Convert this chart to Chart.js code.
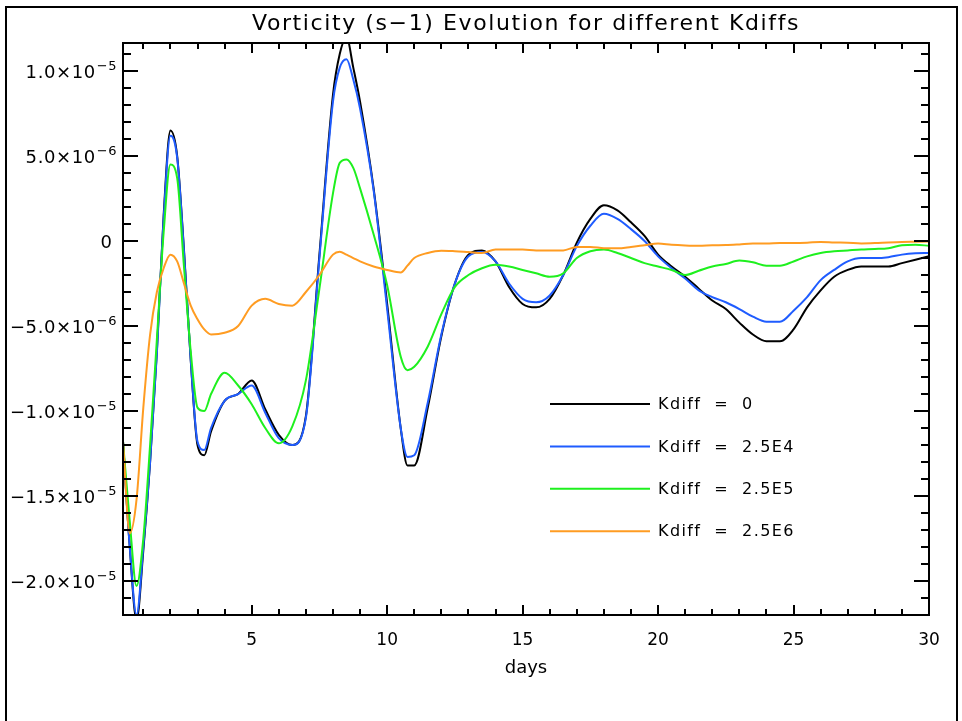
<!DOCTYPE html>
<html lang="en">
<head>
    <meta charset="UTF-8">
    <title>Vorticity (s-1) Evolution for different Kdiffs</title>
    <script src="https://cdn.jsdelivr.net/npm/chart.js"></script>
    <style>
        html, body {
            margin: 0;
            padding: 0;
            background: #fff;
        }
        .chart-box {
            width: 962px;
            height: 721px;
        }
    </style>
</head>
<body>
    <div class="chart-box">
        <canvas id="vortChart" width="962" height="721"></canvas>
    </div>

    <script>
        // time axis (days) shared by all runs
        const days = [0.25, 0.5, 0.75, 1.0, 1.25, 1.5, 1.75, 2.0, 2.25, 2.5, 2.75, 3.0, 3.25, 3.5,
            4.0, 4.5, 5.0, 5.5, 6.0, 6.5, 7.0, 7.5, 8.0, 8.25, 8.5, 8.75, 9.0, 9.5, 10.0, 10.5,
            10.75, 11.0, 11.5, 12.0, 12.5, 13.0, 13.5, 14.0, 14.5, 15.0, 15.5, 16.0, 16.5, 17.0,
            17.5, 18.0, 18.5, 19.0, 19.5, 20.0, 20.5, 21.0, 21.5, 22.0, 22.5, 23.0, 23.5, 24.0,
            24.5, 25.0, 25.5, 26.0, 26.5, 27.0, 27.5, 28.0, 28.5, 29.0, 29.5, 30.0];

        // vorticity, in units of 1e-6 s^-1
        const kdiff0 = [-11.8, -18.0, -22.3, -18.2, -13.0, -6.5, 1.5, 6.5, 5.0, -0.5, -7.0, -12.0, -12.6, -11.2,
            -9.4, -9.0, -8.2, -9.9, -11.4, -12.0, -10.3, -0.8, 8.6, 11.0, 12.0, 10.2, 8.2, 3.1, -3.7, -11.0,
            -13.2, -13.2, -9.8, -5.6, -2.5, -0.8, -0.55, -1.2, -2.7, -3.7, -3.9, -3.4, -2.0, -0.1,
            1.3, 2.1, 1.8, 1.1, 0.3, -0.8, -1.5, -2.1, -2.8, -3.5, -4.0, -4.8, -5.5, -5.9,
            -5.9, -5.2, -3.9, -2.9, -2.1, -1.7, -1.5, -1.5, -1.5, -1.3, -1.1, -0.9];

        const kdiff25e4 = [-11.8, -18.0, -22.0, -18.0, -13.0, -6.6, 1.3, 6.2, 4.9, -0.6, -7.0, -11.8, -12.3, -11.0,
            -9.4, -9.0, -8.5, -10.1, -11.6, -12.0, -10.4, -1.0, 8.2, 10.2, 10.7, 9.5, 7.8, 3.0, -4.0, -11.0,
            -12.7, -12.6, -9.5, -5.5, -2.5, -0.9, -0.65, -1.2, -2.5, -3.4, -3.6, -3.2, -2.0, -0.3,
            0.9, 1.6, 1.3, 0.7, 0.0, -0.9, -1.6, -2.2, -2.9, -3.3, -3.6, -4.0, -4.45, -4.75,
            -4.75, -4.1, -3.3, -2.3, -1.7, -1.2, -1.0, -1.0, -0.95, -0.8, -0.72, -0.7];

        const kdiff25e5 = [-11.8, -16.5, -20.3, -17.5, -12.0, -5.8, 0.5, 4.5, 3.7, -1.5, -6.5, -9.8, -10.0, -9.0,
            -7.75, -8.5, -9.6, -11.0, -11.9, -10.9, -8.2, -2.8, 2.8, 4.6, 4.8, 4.3, 3.1, 0.4, -2.6, -6.8,
            -7.6, -7.4, -6.2, -4.3, -2.7, -2.0, -1.6, -1.4, -1.5, -1.7, -1.9, -2.1, -1.9, -1.0,
            -0.6, -0.5, -0.7, -1.0, -1.3, -1.5, -1.7, -2.0, -1.75, -1.5, -1.35, -1.15, -1.25, -1.45,
            -1.45, -1.2, -0.9, -0.7, -0.6, -0.55, -0.5, -0.47, -0.42, -0.25, -0.22, -0.28];

        const kdiff25e6 = [-11.8, -17.2, -15.2, -9.8, -5.5, -3.0, -1.6, -0.8, -1.2, -2.5, -3.8, -4.6, -5.2, -5.5,
            -5.4, -5.0, -3.8, -3.4, -3.7, -3.8, -3.0, -2.0, -0.8, -0.63, -0.8, -1.0, -1.2, -1.5, -1.7, -1.85,
            -1.45, -1.0, -0.7, -0.57, -0.6, -0.65, -0.7, -0.5, -0.5, -0.5, -0.55, -0.55, -0.55, -0.35,
            -0.35, -0.42, -0.43, -0.35, -0.25, -0.15, -0.22, -0.26, -0.28, -0.25, -0.24, -0.2, -0.15, -0.15,
            -0.12, -0.12, -0.1, -0.05, -0.08, -0.1, -0.14, -0.12, -0.08, -0.05, -0.04, -0.03];

        const seriesLabels = ['Kdiff = 0', 'Kdiff = 2.5E4', 'Kdiff = 2.5E5', 'Kdiff = 2.5E6'];
        const seriesColors = ['#000000', '#1f5cff', '#1ef01e', '#ff9c22'];

        const chartTitle = 'Vorticity (s\u22121) Evolution for different Kdiffs';
        const xTickValues = [5, 10, 15, 20, 25, 30];
        const yTickValues = [-20, -15, -10, -5, 0, 5, 10];
        // mantissa and power of ten for each y tick
        const yTickMantissa = ['\u22122.0', '\u22121.5', '\u22121.0', '\u22125.0', '0', '5.0', '1.0'];
        const yTickPower = ['\u22125', '\u22125', '\u22125', '\u22126', '', '\u22126', '\u22125'];

        const FONT = "'DejaVu Sans', sans-serif";

        // white page, outer black frame and the title
        const pageFrame = {
            id: 'pageFrame',
            beforeDraw(chart) {
                const c = chart.ctx;
                const a = chart.chartArea;
                c.save();
                c.fillStyle = '#fff';
                c.fillRect(0, 0, chart.width, chart.height);
                c.strokeStyle = '#000';
                c.lineWidth = 2;
                c.strokeRect(6, 7, 951, 740);
                c.fillStyle = '#000';
                c.font = '22px ' + FONT;
                c.letterSpacing = '1.6px';
                c.textAlign = 'center';
                c.textBaseline = 'middle';
                c.fillText(chartTitle, (a.left + a.right) / 2, 24);
                c.restore();
            }
        };

        // IDL-style box with inward ticks on all four sides, plus y labels
        const boxTicks = {
            id: 'boxTicks',
            afterDatasetsDraw(chart) {
                const c = chart.ctx;
                const a = chart.chartArea;
                const xs = chart.scales.x;
                const ys = chart.scales.y;
                c.save();
                c.strokeStyle = '#000';
                c.lineWidth = 2;
                c.strokeRect(a.left, a.top, a.right - a.left, a.bottom - a.top);
                c.beginPath();
                for (let d = 1; d <= 30; d++) {
                    const px = Math.round(xs.getPixelForValue(d));
                    if (px <= a.left + 1) continue;
                    const len = d % 5 === 0 ? 10 : 6;
                    c.moveTo(px, a.bottom); c.lineTo(px, a.bottom - len);
                    c.moveTo(px, a.top); c.lineTo(px, a.top + len);
                }
                for (let v = -22; v <= 11; v++) {
                    const py = Math.round(ys.getPixelForValue(v));
                    const len = v % 5 === 0 ? 15 : 8;
                    c.moveTo(a.left, py); c.lineTo(a.left + len, py);
                    c.moveTo(a.right, py); c.lineTo(a.right - len, py);
                }
                c.stroke();

                // y tick labels: mantissa x 10 with a raised exponent
                c.fillStyle = '#000';
                c.textBaseline = 'alphabetic';
                c.textAlign = 'right';
                yTickValues.forEach((v, i) => {
                    const py = ys.getPixelForValue(v);
                    let right = a.left - 6;
                    const pow = yTickPower[i];
                    if (pow) {
                        c.font = '13px ' + FONT;
                        c.letterSpacing = '0.5px';
                        c.fillText(pow, right, py - 1);
                        right -= c.measureText(pow).width + 1;
                        c.font = '18px ' + FONT;
                        c.letterSpacing = '0.6px';
                        c.fillText(yTickMantissa[i] + '\u00d710', right, py + 7);
                    } else {
                        c.font = '18px ' + FONT;
                        c.letterSpacing = '0px';
                        c.fillText(yTickMantissa[i], a.left - 11, py + 7);
                    }
                });
                c.restore();
            }
        };

        // legend drawn inside the plot
        const insideLegend = {
            id: 'insideLegend',
            afterDraw(chart) {
                const c = chart.ctx;
                c.save();
                c.font = '16px ' + FONT;
                c.letterSpacing = '1.4px';
                c.textBaseline = 'middle';
                c.fillStyle = '#000';
                chart.data.datasets.forEach((ds, i) => {
                    const y = 404 + i * 42.4;
                    c.strokeStyle = ds.borderColor;
                    c.lineWidth = 2;
                    c.beginPath();
                    c.moveTo(550, y); c.lineTo(650, y);
                    c.stroke();
                    c.fillText(ds.label.replace(/ = /, '  =  '), 658, y + 1);
                });
                c.restore();
            }
        };

        const series = [kdiff0, kdiff25e4, kdiff25e5, kdiff25e6];

        new Chart(document.getElementById('vortChart'), {
            type: 'line',
            data: {
                datasets: series.map((vals, i) => ({
                    label: seriesLabels[i],
                    data: vals.map((v, j) => ({ x: days[j], y: v })),
                    borderColor: seriesColors[i],
                    borderWidth: 2,
                    pointRadius: 0,
                    cubicInterpolationMode: 'monotone',
                    fill: false,
                    order: series.length - i // later runs drawn on top
                }))
            },
            options: {
                responsive: false,
                animation: false,
                layout: { padding: { left: 0, right: 33, top: 43, bottom: 42 } },
                plugins: {
                    legend: { display: false },
                    tooltip: { enabled: false },
                    title: { display: false }
                },
                scales: {
                    x: {
                        type: 'linear',
                        min: 0.25,
                        max: 30,
                        grid: { display: false },
                        border: { display: false },
                        afterBuildTicks: s => { s.ticks = xTickValues.map(v => ({ value: v })); },
                        afterFit: s => { s.height = 64; },
                        ticks: {
                            color: '#000',
                            padding: 7,
                            maxRotation: 0,
                            font: { family: FONT, size: 17 }
                        },
                        title: {
                            display: true,
                            text: 'days',
                            color: '#000',
                            padding: 0,
                            font: { family: FONT, size: 18 }
                        }
                    },
                    y: {
                        min: -22,
                        max: 11.65,
                        grid: { display: false },
                        border: { display: false },
                        afterBuildTicks: s => { s.ticks = yTickValues.map(v => ({ value: v })); },
                        afterFit: s => { s.width = 123; },
                        ticks: { display: false }
                    }
                }
            },
            plugins: [pageFrame, boxTicks, insideLegend]
        });
    </script>
</body>
</html>
